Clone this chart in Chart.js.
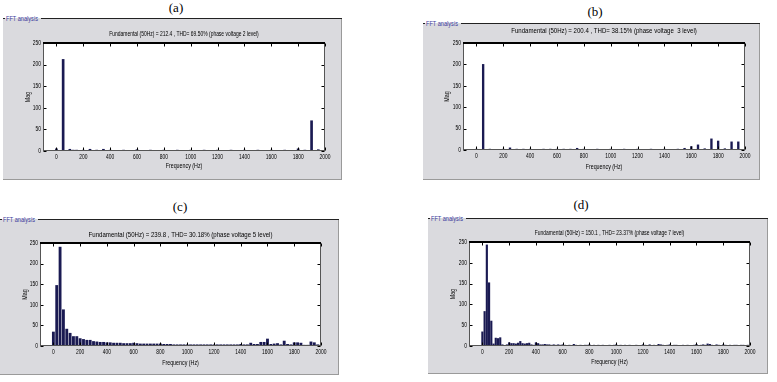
<!DOCTYPE html>
<html>
<head>
<meta charset="utf-8">
<script src="https://cdn.jsdelivr.net/npm/chart.js@4.4.1/dist/chart.umd.min.js"></script>
<style>
  html, body { margin:0; padding:0; background:#fff; }
  body { width:777px; height:382px; position:relative; overflow:hidden; }
  .cap { position:absolute; font-family:"Liberation Serif","Times New Roman",serif; font-size:13px; font-weight:normal; color:#000; transform:translate(-50%,-50%); white-space:nowrap; }
  .panel { position:absolute; background:#dadade; border-right:1px solid #9a9a9a; border-bottom:1px solid #9a9a9a; box-sizing:border-box; }
  .topline { position:absolute; height:1px; background:#222; }
  .lbl { position:absolute; font-family:"Liberation Sans",Arial,sans-serif; font-size:7px; color:#3c3c9c; white-space:nowrap; line-height:7px; transform:scaleX(0.8); transform-origin:left top; }
  canvas { position:absolute; }
</style>
</head>
<body>
<script>
// ---------------- DATA ----------------
const xTicks = [0, 200, 400, 600, 800, 1000, 1200, 1400, 1600, 1800, 2000];
const yTicks = [0, 50, 100, 150, 200, 250];

const titleA = 'Fundamental (50Hz) = 212.4 , THD= 69.50% (phase voltage 2 level)';
const titleB = 'Fundamental (50Hz) = 200.4 , THD= 38.15% (phase voltage  3 level)';
const titleC = 'Fundamental (50Hz) = 239.8 , THD= 30.18% (phase voltage 5 level)';
const titleD = 'Fundamental (50Hz) = 150.1 , THD= 23.37% (phase voltage 7 level)';

// frequency bin spacing (Hz) of each spectrum
const binA = 25, binB = 25, binC = 25, binD = 50 / 3;

// magnitudes, bin by bin from 0 Hz to 2000 Hz
const magA = [
  5,1,212,1,4,2,2,1,
  2,1,4,1,2,1,4,1,
  2,1,1,1,2,1,1,1,
  3,1,1,1,2,1,1,1,
  2,1,1,1,2,1,1,1,
  2,1,1,1,2,1,1,1,
  2,1,1,1,2,1,1,1,
  2,1,1,1,2,1,1,1,
  2,1,1,1,2,1,1,1,
  5,1,2,1,70,1,3,1,
  1];
const magB = [
  2,1,200,1,2,1,1,1,
  2,1,5,1,2,1,2,1,
  2,1,1,1,2,1,2,1,
  2,1,2,1,2,1,4,1,
  2,1,1,1,2,1,1,1,
  2,1,1,1,2,1,1,1,
  2,1,1,1,2,1,1,1,
  2,1,1,1,2,1,4,1,
  8,1,12,1,3,1,26,1,
  21,1,3,1,19,1,19,1,
  1];
const magC = [
  34,147,240,88,41,31,23,23,
  18,16,14,14,11,10,9,9,
  8,8,7,7,7,6,6,6,
  7,6,5,5,5,5,5,5,
  5,4,4,4,3,3,3,3,
  3,3,3,3,3,3,3,3,
  3,3,3,3,3,3,3,3,
  4,3,3,7,4,4,9,9,
  17,4,5,6,3,12,4,3,
  8,8,7,2,2,10,8,3,
  2];
const magD = [
  34,83,243,152,60,5,19,18,20,3,1,3,
  8,6,6,5,7,11,6,5,6,7,3,2,
  8,6,3,3,4,3,3,2,3,2,3,2,
  3,2,1,2,1,4,2,1,2,1,2,2,
  3,1,2,1,2,1,2,1,1,2,1,2,
  3,1,2,1,2,1,2,1,1,2,1,1,
  3,2,1,3,1,2,1,4,3,2,1,2,
  3,1,2,2,1,1,2,1,2,1,1,2,
  4,1,2,3,2,5,4,2,1,3,2,1,
  3,2,1,2,1,2,2,1,2,2,1,2,
  1];

// ---------------- STYLE / LAYOUT ----------------
const BAR = '#1a1a52';
const SANS = '"Liberation Sans",Arial,sans-serif';

// MATLAB GUI text in the reference is horizontally condensed: squeeze canvas text
const SQ = 0.76;
const origFill = CanvasRenderingContext2D.prototype.fillText;
CanvasRenderingContext2D.prototype.fillText = function (t, x, y, mw) {
  this.save();
  this.translate(x, y);
  this.scale(SQ, 1);
  if (mw === undefined) origFill.call(this, t, 0, 0);
  else origFill.call(this, t, 0, 0, mw / SQ);
  this.restore();
};

const panels = [
  { id:'a', cap:'(a)', capX:176, capY:8,  x:3,   y:18,  w:339, h:162, pl:43,  pt:43,  pr:325, pb:151, titleY:34, xlabY:166, ylabX:28,
    title:titleA, bin:binA, mag:magA, ts:6.5, bw:2 },
  { id:'b', cap:'(b)', capX:595, capY:12, x:423, y:23,  w:337, h:157, pl:463, pt:43,  pr:745, pb:150, titleY:31, xlabY:167, ylabX:447,
    title:titleB, bin:binB, mag:magB, ts:8,   bw:1.7 },
  { id:'c', cap:'(c)', capX:180, capY:207, x:0,  y:219, w:339, h:156, pl:40,  pt:243, pr:321, pb:346, titleY:235, xlabY:363, ylabX:25,
    title:titleC, bin:binC, mag:magC, ts:8,   bw:2.2 },
  { id:'d', cap:'(d)', capX:581, capY:205, x:428, y:218, w:340, h:156, pl:469, pt:242, pr:750, pb:346, titleY:233, xlabY:362, ylabX:453,
    title:titleD, bin:binD, mag:magD, ts:6.5, bw:1.5 }
];

const boxPlugin = {
  id: 'matlabBox',
  beforeDraw(chart) {
    const { ctx, chartArea: a } = chart;
    ctx.save();
    ctx.fillStyle = '#ffffff';
    ctx.fillRect(a.left, a.top, a.right - a.left, a.bottom - a.top);
    ctx.restore();
  },
  afterDatasetsDraw(chart) {
    const { ctx, chartArea: a, scales: { x, y } } = chart;
    const L = Math.round(a.left) + 0.5, R = Math.round(a.right) - 0.5;
    const T = Math.round(a.top) + 0.5, B = Math.round(a.bottom) - 0.5;
    ctx.save();
    ctx.strokeStyle = '#000';
    ctx.lineWidth = 1;
    ctx.beginPath();
    x.ticks.forEach(t => {
      const p = Math.round(x.getPixelForValue(t.value)) + 0.5;
      ctx.moveTo(p, B); ctx.lineTo(p, B - 3);
      ctx.moveTo(p, T); ctx.lineTo(p, T + 3);
    });
    y.ticks.forEach(t => {
      const p = Math.round(y.getPixelForValue(t.value)) + 0.5;
      ctx.moveTo(L, p); ctx.lineTo(L + 3, p);
      ctx.moveTo(R, p); ctx.lineTo(R - 3, p);
    });
    ctx.stroke();
    ctx.strokeStyle = '#555';
    ctx.strokeRect(L, T, R - L, B - T);
    ctx.fillStyle = '#000';
    ctx.fillRect(Math.round(a.left), Math.round(a.top) - 1, Math.round(a.right) - Math.round(a.left), 2);
    ctx.restore();
  }
};

function el(tag, cls, style, text) {
  const e = document.createElement(tag);
  if (cls) e.className = cls;
  Object.assign(e.style, style);
  if (text) e.textContent = text;
  document.body.appendChild(e);
  return e;
}

panels.forEach(g => {
  el('div', 'cap', { left: g.capX + 'px', top: g.capY + 'px' }, g.cap);
  el('div', 'panel', { left: g.x + 'px', top: g.y + 'px', width: g.w + 'px', height: g.h + 'px' });
  el('div', 'topline', { left: (g.x + 38) + 'px', top: g.y + 'px', width: (g.w - 38) + 'px' });
  el('div', 'topline', { left: g.x + 'px', top: g.y + 'px', width: '2px' });
  el('div', 'lbl', { left: (g.x + 3) + 'px', top: (g.y - 3) + 'px' }, 'FFT analysis');

  const cv = el('canvas', '', { left: g.x + 'px', top: g.y + 'px' });
  cv.width = g.w; cv.height = g.h;

  const L = g.pl - g.x, R = g.pr - g.x, T = g.pt - g.y, B = g.pb - g.y;
  const tY = g.titleY - g.y;
  const ts = g.ts;
  const ls = 7;
  const data = g.mag.map((m, i) => ({ x: i * g.bin, y: m }));

  new Chart(cv.getContext('2d'), {
    type: 'bar',
    data: { datasets: [{ data, backgroundColor: BAR, borderWidth: 0, barThickness: g.bw }] },
    options: {
      animation: false, responsive: false, events: [], devicePixelRatio: 1,
      layout: { padding: { left: 0, right: g.w - R, top: 0, bottom: 0 } },
      plugins: {
        legend: { display: false }, tooltip: { enabled: false },
        title: { display: true, text: g.title, fullSize: false, color: '#000',
          font: { family: SANS, size: ts, lineHeight: 1, weight: 'normal' },
          padding: { top: tY - ts / 2, bottom: T - tY - ts / 2 } }
      },
      scales: {
        x: { type: 'linear', min: -100, max: 2000, offset: false,
          grid: { display: false, drawTicks: false }, border: { display: false },
          afterBuildTicks: s => { s.ticks = xTicks.map(v => ({ value: v })); },
          afterFit: s => { s.height = g.h - B; },
          ticks: { autoSkip: false, maxRotation: 0, minRotation: 0, padding: 3, color: '#000',
            font: { family: SANS, size: 6.5, lineHeight: 1 }, callback: v => String(v) },
          title: { display: true, text: 'Frequency (Hz)', color: '#000',
            font: { family: SANS, size: ls, lineHeight: 1 },
            padding: { top: 0, bottom: (g.h - (g.xlabY - g.y)) - ls / 2 } } },
        y: { type: 'linear', min: 0, max: 250,
          grid: { display: false, drawTicks: false }, border: { display: false },
          afterBuildTicks: s => { s.ticks = yTicks.map(v => ({ value: v })); },
          afterFit: s => { s.width = L; },
          ticks: { padding: 2, color: '#000', font: { family: SANS, size: 6.5, lineHeight: 1 }, callback: v => String(v) },
          title: { display: true, text: 'Mag', color: '#000',
            font: { family: SANS, size: ls, lineHeight: 1 },
            padding: { top: (g.ylabX - g.x) - ls / 2, bottom: 0 } } }
      }
    },
    plugins: [boxPlugin]
  });
});
</script>
</body>
</html>
